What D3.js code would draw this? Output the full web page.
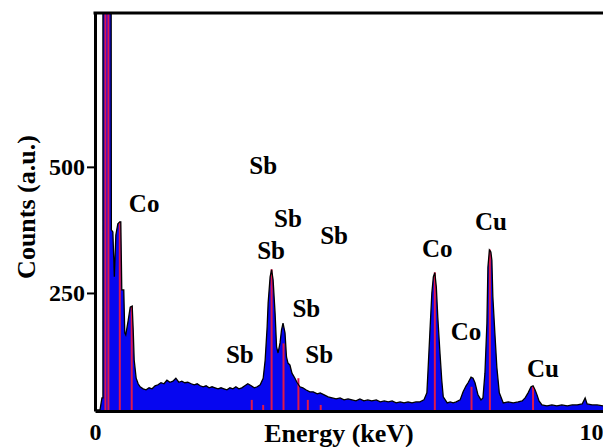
<!DOCTYPE html>
<html>
<head>
<meta charset="utf-8">
<script src="https://cdn.jsdelivr.net/npm/d3@7"></script>
<style>
  body { margin: 0; background: #fff; }
</style>
</head>
<body>
<script>
const width = 603;
const height = 447;
const serif = "'Liberation Serif', 'Times New Roman', Times, 'DejaVu Serif', serif";

// EDS spectrum: energy (keV) and counts
const energy = [
    0.00, 0.10, 0.14, 0.16, 0.16, 0.32, 0.33, 0.36, 0.39, 0.42, 0.46, 0.50, 0.52, 0.54, 0.58, 0.60,
    0.62, 0.67, 0.71, 0.75, 0.77, 0.79, 0.83, 0.87, 0.91, 0.97, 1.03, 1.09, 1.15, 1.21, 1.27, 1.33,
    1.39, 1.45, 1.51, 1.57, 1.63, 1.69, 1.75, 1.81, 1.87, 1.94, 2.00, 2.06, 2.12, 2.18, 2.24, 2.30,
    2.36, 2.42, 2.48, 2.54, 2.60, 2.66, 2.72, 2.78, 2.84, 2.90, 2.96, 3.02, 3.08, 3.15, 3.21, 3.27,
    3.33, 3.39, 3.43, 3.47, 3.49, 3.53, 3.56, 3.59, 3.63, 3.66, 3.69, 3.73, 3.76, 3.79, 3.83, 3.86,
    3.89, 3.93, 3.97, 4.03, 4.07, 4.13, 4.19, 4.25, 4.33, 4.40, 4.48, 4.54, 4.62, 4.70, 4.78, 4.86,
    4.94, 5.02, 5.10, 5.18, 5.26, 5.34, 5.42, 5.50, 5.58, 5.67, 5.75, 5.83, 5.91, 5.99, 6.07, 6.15,
    6.23, 6.31, 6.39, 6.47, 6.55, 6.63, 6.69, 6.71, 6.75, 6.79, 6.82, 6.85, 6.88, 6.91, 6.95, 6.99,
    7.02, 7.10, 7.16, 7.22, 7.28, 7.36, 7.42, 7.48, 7.52, 7.58, 7.62, 7.66, 7.72, 7.78, 7.82, 7.86,
    7.90, 7.92, 7.95, 7.98, 8.00, 8.02, 8.06, 8.10, 8.15, 8.23, 8.33, 8.43, 8.53, 8.61, 8.67, 8.73,
    8.79, 8.83, 8.87, 8.91, 8.95, 9.01, 9.11, 9.21, 9.31, 9.41, 9.52, 9.62, 9.72, 9.82, 9.88, 9.92,
    10.02, 10.12, 10.24
];
const counts = [
    18, 18, 42, 42, 1400, 1400, 375, 371, 282, 365, 387, 391, 391, 256, 256, 171,
    167, 196, 222, 224, 177, 117, 81, 70, 64, 60, 58, 62, 60, 66, 68, 72,
    70, 77, 73, 75, 81, 73, 75, 72, 73, 70, 68, 70, 66, 64, 66, 62,
    64, 62, 60, 62, 60, 58, 62, 60, 64, 60, 62, 66, 70, 66, 62, 64,
    68, 81, 117, 183, 230, 282, 296, 276, 210, 143, 131, 151, 177, 190, 171, 123,
    111, 107, 91, 81, 73, 64, 62, 58, 54, 54, 50, 52, 48, 44, 42, 40,
    42, 38, 40, 38, 36, 40, 36, 38, 36, 38, 34, 36, 34, 36, 32, 34,
    32, 34, 32, 34, 34, 38, 52, 91, 171, 250, 282, 290, 262, 202, 137, 77,
    44, 32, 34, 32, 34, 38, 54, 66, 72, 83, 81, 72, 48, 38, 42, 91,
    190, 301, 335, 331, 315, 242, 171, 103, 52, 32, 34, 32, 34, 36, 42, 52,
    64, 66, 58, 48, 36, 28, 26, 28, 26, 28, 26, 28, 28, 30, 42, 30,
    28, 28, 26
];

// reference line markers (keV) and their heights (counts)
const lineEnergy = [0.21, 0.27, 0.50, 0.74, 3.16, 3.39, 3.56, 3.80, 4.10, 4.29, 4.55, 6.85, 7.59, 7.96, 8.83];
const lineCounts = [1400, 1400, 391, 224, 38, 28, 297, 150, 81, 38, 28, 291, 64, 336, 65];

// element labels: name, energy (keV) of label centre, counts of label baseline
const labelNames = ["Co", "Sb", "Sb", "Sb", "Sb", "Sb", "Sb", "Sb", "Co", "Cu", "Co", "Cu"];
const labelEnergy = [0.99, 3.39, 3.89, 4.82, 3.55, 4.26, 4.52, 2.92, 6.90, 7.98, 7.48, 9.03];
const labelCounts = [411, 486, 381, 347, 318, 203, 112, 112, 322, 375, 157, 84];

const xTicks = [0, 10];
const yTicks = [250, 500];

const data = energy.map((e, i) => ({ e: e, c: counts[i] }));

const margin = { top: 13, right: 0, bottom: 36, left: 95 };

const x = d3.scaleLinear().domain([0, 10.24]).range([margin.left, width - margin.right]);
const y = d3.scaleLinear().domain([16, 805]).range([height - margin.bottom, margin.top]);

const svg = d3.select("body").append("svg")
    .attr("width", width)
    .attr("height", height);

svg.append("defs").append("clipPath").attr("id", "plotClip")
    .append("rect")
    .attr("x", margin.left)
    .attr("y", margin.top)
    .attr("width", width - margin.left - margin.right)
    .attr("height", height - margin.top - margin.bottom);

const plot = svg.append("g").attr("clip-path", "url(#plotClip)");

// filled spectrum
const area = d3.area()
    .x((d) => x(d.e))
    .y0(y(16))
    .y1((d) => y(d.c));

plot.append("path")
    .datum(data)
    .attr("d", area)
    .attr("fill", "#0606f0");

// red marker lines
plot.selectAll(".marker")
    .data(lineEnergy)
    .enter()
    .append("line")
    .attr("class", "marker")
    .attr("x1", (d) => x(d))
    .attr("x2", (d) => x(d))
    .attr("y1", y(16))
    .attr("y2", (d, i) => y(lineCounts[i]))
    .attr("stroke", "#e0184a")
    .attr("stroke-width", 2);

// black outline of spectrum
const line = d3.line()
    .x((d) => x(d.e))
    .y((d) => y(d.c));

plot.append("path")
    .datum(data)
    .attr("d", line)
    .attr("fill", "none")
    .attr("stroke", "#000")
    .attr("stroke-width", 1.3);

// axes
const xAxis = svg.append("g")
    .attr("transform", `translate(0, ${height - margin.bottom})`)
    .call(d3.axisBottom(x).tickValues(xTicks).tickSize(0).tickPadding(12).tickFormat(d3.format("d")));
xAxis.select(".domain").attr("stroke-width", 3);

const yAxis = svg.append("g")
    .attr("transform", `translate(${margin.left}, 0)`)
    .call(d3.axisLeft(y).tickValues(yTicks).tickSize(8).tickSizeOuter(0).tickPadding(2));
yAxis.select(".domain").attr("stroke-width", 3);
yAxis.selectAll(".tick line").attr("stroke-width", 2);

svg.selectAll(".tick text")
    .style("font-family", serif)
    .style("font-weight", "bold")
    .style("font-size", "24px")
    .attr("fill", "#000");

// top border
svg.append("line")
    .attr("x1", margin.left - 1.5)
    .attr("x2", width)
    .attr("y1", margin.top)
    .attr("y2", margin.top)
    .attr("stroke", "#000")
    .attr("stroke-width", 3);

// element labels
svg.selectAll(".elabel")
    .data(labelNames)
    .enter()
    .append("text")
    .attr("class", "elabel")
    .attr("x", (d, i) => x(labelEnergy[i]))
    .attr("y", (d, i) => y(labelCounts[i]))
    .attr("text-anchor", "middle")
    .style("font-family", serif)
    .style("font-weight", "bold")
    .style("font-size", "25px")
    .text((d) => d);

// axis titles
svg.append("text")
    .attr("x", 339)
    .attr("y", 442)
    .attr("text-anchor", "middle")
    .style("font-family", serif)
    .style("font-weight", "bold")
    .style("font-size", "26px")
    .text("Energy (keV)");

svg.append("text")
    .attr("transform", "translate(35, 207) rotate(-90)")
    .attr("text-anchor", "middle")
    .style("font-family", serif)
    .style("font-weight", "bold")
    .style("font-size", "26px")
    .text("Counts (a.u.)");
</script>
</body>
</html>
